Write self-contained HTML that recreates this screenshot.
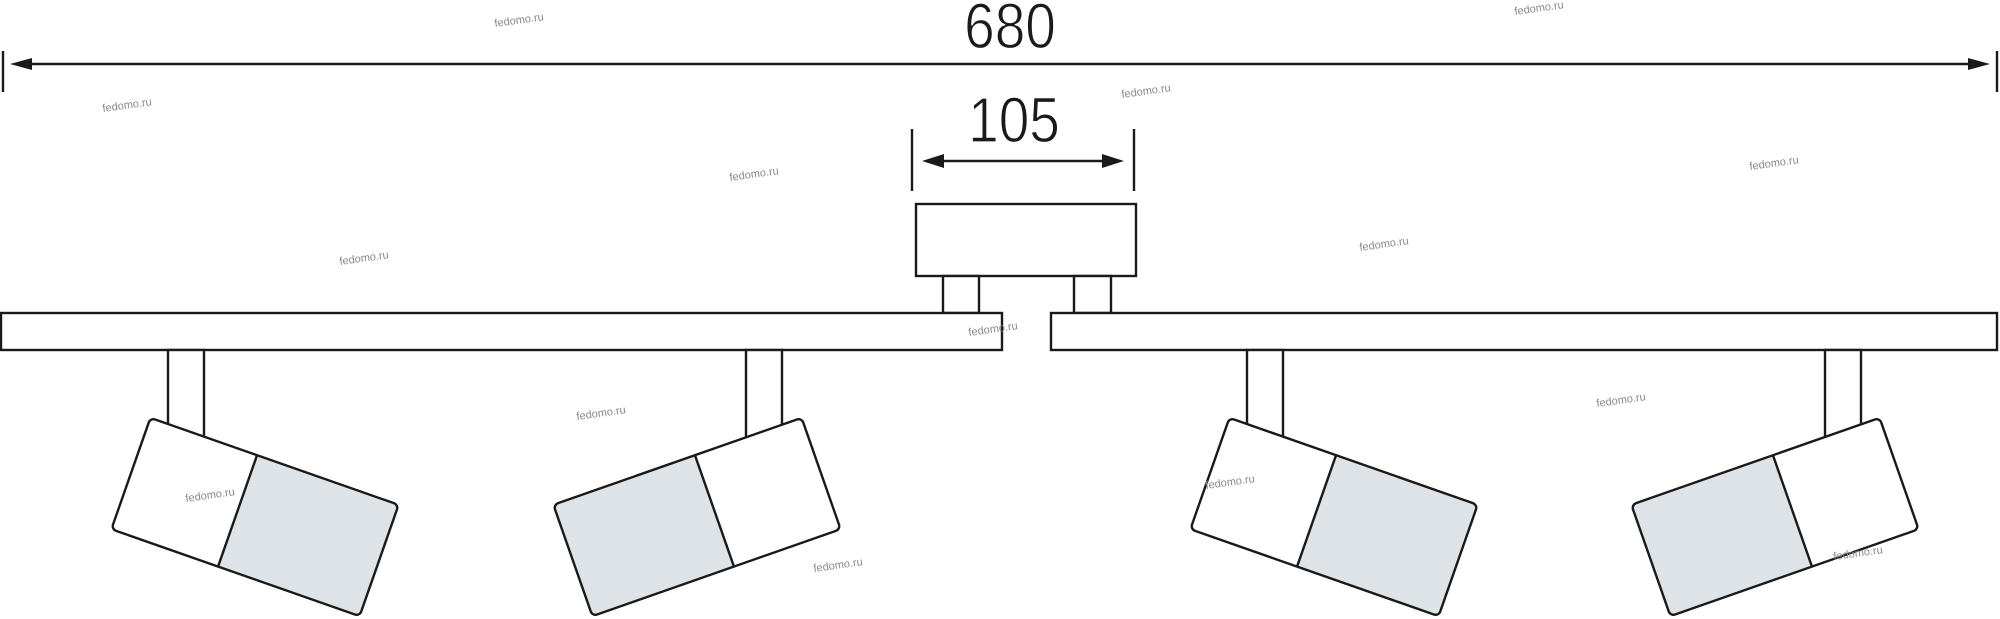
<!DOCTYPE html>
<html><head><meta charset="utf-8"><style>
html,body{margin:0;padding:0;background:#fff;}
svg{display:block;}
.d{font-family:"Liberation Sans",sans-serif;font-size:64px;fill:#1a1a1a;stroke:#fff;stroke-width:1.2px;}
.w{font-family:"Liberation Sans",sans-serif;font-size:11px;fill:#888;}
</style></head><body>
<svg width="2000" height="619" viewBox="0 0 2000 619" xmlns="http://www.w3.org/2000/svg">
<g stroke="#1a1a1a" stroke-width="2.4" fill="none">
<line x1="3" y1="51" x2="3" y2="92"/>
<line x1="1997" y1="51" x2="1997" y2="92"/>
<line x1="20" y1="64" x2="1980" y2="64"/>
<line x1="912" y1="129" x2="912" y2="191"/>
<line x1="1134" y1="129" x2="1134" y2="191"/>
<line x1="935" y1="161" x2="1110" y2="161"/>
<rect x="916" y="204" width="220" height="72" fill="#fff"/>
<rect x="943" y="276" width="36" height="37" fill="#fff"/>
<rect x="1074" y="276" width="37" height="37" fill="#fff"/>
<rect x="1" y="313" width="1001" height="37" fill="#fff"/>
<rect x="1051" y="313" width="946" height="37" fill="#fff"/>
<rect x="168" y="350" width="36" height="100" fill="#fff"/>
<rect x="746" y="350" width="36" height="100" fill="#fff"/>
<rect x="1247" y="350" width="36" height="100" fill="#fff"/>
<rect x="1825" y="350" width="36" height="100" fill="#fff"/>
</g>
<g fill="#1a1a1a">
<polygon points="10,64 32,58 32,70"/>
<polygon points="1990,64 1968,58 1968,70"/>
<polygon points="922,161 944,154 944,168"/>
<polygon points="1124,161 1102,154 1102,168"/>
</g>
<defs>
<g id="spot">
<rect x="-131.5" y="-59" width="263" height="118" rx="5" fill="#fff"/>
<path d="M-18.5,-59 H126.5 A5,5 0 0 1 131.5,-54 V54 A5,5 0 0 1 126.5,59 H-18.5 Z" fill="#dde3e6"/>
<rect x="-131.5" y="-59" width="263" height="118" rx="5" fill="none" stroke="#1a1a1a" stroke-width="2.4"/>
<line x1="-18.5" y1="-59" x2="-18.5" y2="59" stroke="#1a1a1a" stroke-width="2.4"/>
</g>
</defs>
<use href="#spot" transform="translate(255,517) rotate(19.3)"/>
<use href="#spot" transform="translate(697,517) scale(-1,1) rotate(19.3)"/>
<use href="#spot" transform="translate(1334,517) rotate(19.3)"/>
<use href="#spot" transform="translate(1775,517) scale(-1,1) rotate(19.3)"/>
<text class="d" text-anchor="middle" transform="translate(1010,48) scale(0.86,1)">680</text>
<text class="d" text-anchor="middle" transform="translate(1014,142) scale(0.86,1)">105</text>
<g class="w">
<text transform="translate(495,27) rotate(-8)">fedomo.ru</text>
<text transform="translate(1515,15) rotate(-8)">fedomo.ru</text>
<text transform="translate(103,112) rotate(-8)">fedomo.ru</text>
<text transform="translate(1122,98) rotate(-8)">fedomo.ru</text>
<text transform="translate(730,181) rotate(-8)">fedomo.ru</text>
<text transform="translate(1750,170) rotate(-8)">fedomo.ru</text>
<text transform="translate(340,265) rotate(-8)">fedomo.ru</text>
<text transform="translate(1360,251) rotate(-8)">fedomo.ru</text>
<text transform="translate(969,336) rotate(-8)">fedomo.ru</text>
<text transform="translate(577,420) rotate(-8)">fedomo.ru</text>
<text transform="translate(1597,407) rotate(-8)">fedomo.ru</text>
<text transform="translate(186,502) rotate(-8)">fedomo.ru</text>
<text transform="translate(1206,489) rotate(-8)">fedomo.ru</text>
<text transform="translate(814,572) rotate(-8)">fedomo.ru</text>
<text transform="translate(1834,560) rotate(-8)">fedomo.ru</text>
</g>
</svg>
</body></html>
